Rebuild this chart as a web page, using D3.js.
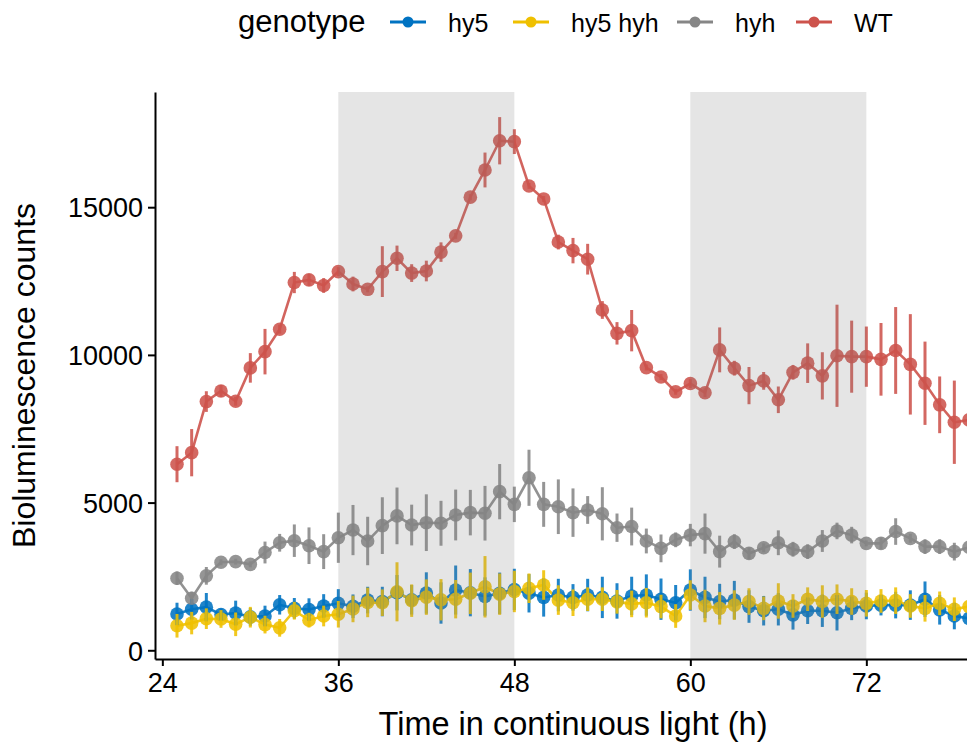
<!DOCTYPE html>
<html>
<head>
<meta charset="utf-8">
<script src="https://cdn.jsdelivr.net/npm/d3@7/dist/d3.min.js"></script>
<style>
  body { margin: 0; background: #fff; }
  svg { display: block; font-family: "Liberation Sans", Arial, Helvetica, sans-serif; }
</style>
</head>
<body>
<div id="chart"></div>
<script>
// hours after transfer to continuous light
var hours = [25,26,27,28,29,30,31,32,33,34,35,36,37,38,39,40,41,42,43,44,45,46,47,48,49,50,51,52,
             53,54,55,56,57,58,59,60,61,62,63,64,65,66,67,68,69,70,71,72,73,74,75,76,77,78,79];

var genotypes = ['hy5', 'hy5 hyh', 'hyh', 'WT'];
var colors = ['#0073C2', '#EFC000', '#868686', '#CD534C'];

var hy5 = [1230,1390,1460,1210,1260,1130,1160,1540,1420,1380,1500,1590,1490,1700,1650,1950,1710,1940,1600,2040,1950,1820,1930,2060,1930,1790,1870,1790,
           1870,1790,1670,1840,1870,1730,1610,2040,1790,1650,1700,1480,1340,1390,1200,1340,1340,1270,1420,1500,1530,1530,1530,1730,1370,1160,1080];
var hy5Err = [380,350,480,200,420,300,350,330,350,380,400,480,400,450,500,600,500,700,700,830,800,650,700,700,650,650,550,450,
              550,700,600,650,700,700,600,700,700,600,650,550,500,550,500,450,550,600,400,450,350,450,500,600,500,450,400];

var hy5hyh = [830,920,1070,1060,880,1120,870,760,1340,1020,1160,1220,1400,1620,1610,1980,1680,1800,1710,1730,1930,2150,1900,1990,2100,2210,1700,1610,
              1730,1730,1640,1570,1610,1480,1160,1870,1500,1420,1530,1650,1420,1670,1500,1730,1650,1730,1650,1590,1670,1680,1500,1420,1590,1390,1480];
var hy5hyhErr = [400,380,350,300,400,350,300,300,300,250,350,450,450,500,450,1000,550,600,700,650,700,1040,700,700,500,500,500,450,
                 400,400,400,450,500,400,400,500,550,550,500,450,400,600,400,400,550,500,450,450,400,450,400,450,400,400,350];

var hyh = [2440,1760,2520,2980,3000,2910,3310,3640,3710,3540,3340,3810,4070,3700,4220,4550,4240,4320,4300,4580,4660,4640,5370,4940,5840,4940,4860,4660,
           4750,4620,4150,4190,3700,3450,3740,3900,3950,3340,3680,3280,3470,3640,3420,3340,3700,4040,3900,3620,3620,4020,3790,3510,3510,3340,3490];
var hyhErr = [230,220,300,100,100,100,370,300,550,620,590,850,850,820,960,960,690,960,760,860,770,925,935,600,950,760,925,820,
              470,900,480,640,420,470,250,380,680,540,250,200,150,420,250,250,370,280,280,100,200,450,150,250,250,300,150];

var wt = [6300,6690,8420,8780,8430,9560,10110,10870,12450,12540,12350,12820,12400,12220,12820,13270,12770,12840,13480,14030,15340,16260,17250,17220,15720,15280,13820,13530,
          13240,11520,10730,10820,9570,9250,8750,9030,8720,10170,9550,8960,9120,8480,9410,9720,9290,9970,9940,9940,9850,10150,9680,9040,8310,7720,7800];
var wtErr = [610,800,350,200,150,500,770,150,360,200,250,150,250,100,860,430,300,350,330,100,100,590,800,420,100,100,250,430,
             520,300,380,700,100,100,100,150,150,760,250,630,300,450,250,670,800,1730,1220,1020,1230,1470,1700,1410,960,1410,500];

var lightShade = [[36, 48], [60, 72]];
var xTicks = [24, 36, 48, 60, 72];
var yTicks = [0, 5000, 10000, 15000];

var width = 967,
    height = 745,
    panel = { left: 155, top: 92, bottom: 659, right: 991 };

var series = [hy5, hy5hyh, hyh, wt],
    errors = [hy5Err, hy5hyhErr, hyhErr, wtErr];

var data = genotypes.map(function(g, i) {
  return {
    name: g,
    color: colors[i],
    values: hours.map(function(h, j) {
      return { h: h, v: series[i][j], e: errors[i][j] };
    })
  };
});

var xScale = d3.scaleLinear()
  .domain([23.5, 80.5])
  .range([panel.left, panel.right]);

var yScale = d3.scaleLinear()
  .domain([-295, 18900])
  .range([panel.bottom, panel.top]);

var svg = d3.select('#chart').append('svg')
  .attr('width', width)
  .attr('height', height);

var line = d3.line()
  .x(function(d) { return xScale(d.h); })
  .y(function(d) { return yScale(d.v); });

var plot = svg.append('g');

// lines
plot.selectAll('.series-line').data(data)
  .enter().append('path')
    .attr('class', 'series-line')
    .attr('d', function(d) { return line(d.values); })
    .attr('fill', 'none')
    .attr('stroke', function(d) { return d.color; })
    .attr('stroke-width', 2.6)
    .attr('opacity', 0.9);

// points
plot.selectAll('.series-pts').data(data)
  .enter().append('g')
    .attr('class', 'series-pts')
    .attr('fill', function(d) { return d.color; })
    .attr('fill-opacity', 0.88)
  .selectAll('circle').data(function(d) { return d.values; })
  .enter().append('circle')
    .attr('cx', function(d) { return xScale(d.h); })
    .attr('cy', function(d) { return yScale(d.v); })
    .attr('r', 6.8);

// error bars
plot.selectAll('.series-err').data(data)
  .enter().append('g')
    .attr('class', 'series-err')
    .attr('stroke', function(d) { return d.color; })
    .attr('stroke-width', 3)
    .attr('stroke-opacity', 0.88)
  .selectAll('line').data(function(d) { return d.values; })
  .enter().append('line')
    .attr('x1', function(d) { return xScale(d.h); })
    .attr('x2', function(d) { return xScale(d.h); })
    .attr('y1', function(d) { return yScale(d.v - d.e); })
    .attr('y2', function(d) { return yScale(d.v + d.e); });

// shaded subjective night, drawn over the data like the original
svg.append('g').selectAll('rect').data(lightShade)
  .enter().append('rect')
    .attr('x', function(d) { return xScale(d[0]); })
    .attr('width', function(d) { return xScale(d[1]) - xScale(d[0]); })
    .attr('y', panel.top)
    .attr('height', panel.bottom - panel.top)
    .attr('fill', '#7F7F7F')
    .attr('fill-opacity', 0.2);

// axes
var yAxis = d3.axisLeft(yScale)
  .tickValues(yTicks)
  .tickFormat(d3.format('d'))
  .tickSize(7)
  .tickSizeOuter(0)
  .tickPadding(5);

var xAxis = d3.axisBottom(xScale)
  .tickValues(xTicks)
  .tickSize(7)
  .tickSizeOuter(0)
  .tickPadding(5);

var yGuide = svg.append('g')
  .attr('transform', 'translate(' + panel.left + ',0)')
  .call(yAxis);

var xGuide = svg.append('g')
  .attr('transform', 'translate(0,' + panel.bottom + ')')
  .call(xAxis);

[yGuide, xGuide].forEach(function(g) {
  g.selectAll('path, line').attr('stroke', '#000').attr('stroke-width', 2);
  g.selectAll('text').attr('fill', '#000').style('font-size', '27px');
});
xGuide.selectAll('text').attr('dy', '0.76em');
yGuide.selectAll('text').attr('dy', '0.36em');

svg.append('text')
  .attr('x', (panel.left + panel.right) / 2)
  .attr('y', 735)
  .attr('text-anchor', 'middle')
  .style('font-size', '32.5px')
  .text('Time in continuous light (h)');

svg.append('text')
  .attr('transform', 'translate(35,' + (panel.top + panel.bottom) / 2 + ') rotate(-90)')
  .attr('text-anchor', 'middle')
  .style('font-size', '32px')
  .text('Bioluminescence counts');

// legend on top
var legend = svg.append('g');
var keyX = [390, 513, 677, 796];

legend.append('text')
  .attr('x', 238)
  .attr('y', 32)
  .style('font-size', '31px')
  .text('genotype');

var keys = legend.selectAll('.key').data(data)
  .enter().append('g')
    .attr('class', 'key')
    .attr('transform', function(d, i) { return 'translate(' + keyX[i] + ',22)'; });

keys.append('line')
  .attr('x1', 0).attr('x2', 36)
  .attr('stroke', function(d) { return d.color; })
  .attr('stroke-width', 3);

keys.append('circle')
  .attr('cx', 18)
  .attr('r', 5.5)
  .attr('fill', function(d) { return d.color; });

keys.append('text')
  .attr('x', 58)
  .attr('y', 10)
  .style('font-size', '25px')
  .text(function(d) { return d.name; });
</script>
</body>
</html>
